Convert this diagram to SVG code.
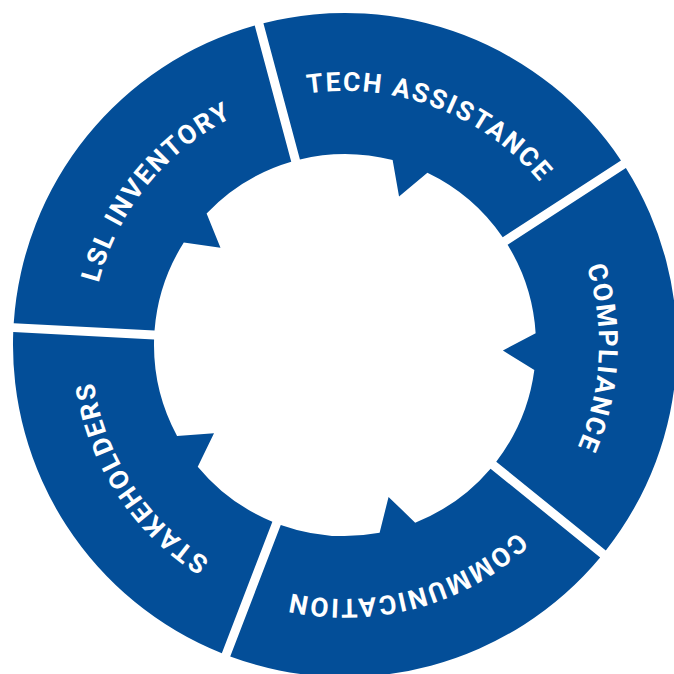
<svg xmlns="http://www.w3.org/2000/svg" xmlns:xlink="http://www.w3.org/1999/xlink" width="674" height="674" viewBox="0 0 674 674">
<style>
.seg{fill:#034e98}
.lbl{fill:#ffffff;font-family:Roboto,"Liberation Sans",sans-serif;font-weight:700;font-size:26.5px;letter-spacing:1.9px}
</style>
<defs>
<path id="segshape" d="M271.22,-191.49 A332,332 0 0 1 271.22,191.49 L157.13,108.60 A191,191 0 0 0 190.39,15.18 L157.98,-2.76 L189.75,-21.82 A191,191 0 0 0 157.13,-108.60 Z"/>
<path id="tp" d="M127,-219.97 A254,254 0 0 1 127,219.97" fill="none"/>
</defs>
<rect width="674" height="674" fill="#ffffff"/>
<g id="tech-assistance" transform="translate(345,345) rotate(-69)">
<use href="#segshape" class="seg"/>
<text class="lbl" text-anchor="middle"><textPath href="#tp" startOffset="50%">TECH ASSISTANCE</textPath></text>
</g>
<g id="compliance" transform="translate(345,345) rotate(3)">
<use href="#segshape" class="seg"/>
<text class="lbl" text-anchor="middle"><textPath href="#tp" startOffset="50%">COMPLIANCE</textPath></text>
</g>
<g id="communication" transform="translate(345,345) rotate(75)">
<use href="#segshape" class="seg"/>
<text class="lbl" text-anchor="middle"><textPath href="#tp" startOffset="50%">COMMUNICATION</textPath></text>
</g>
<g id="stakeholders" transform="translate(345,345) rotate(147)">
<use href="#segshape" class="seg"/>
<text class="lbl" text-anchor="middle"><textPath href="#tp" startOffset="50%">STAKEHOLDERS</textPath></text>
</g>
<g id="lsl-inventory" transform="translate(345,345) rotate(219)">
<use href="#segshape" class="seg"/>
<text class="lbl" text-anchor="middle"><textPath href="#tp" startOffset="50%">LSL INVENTORY</textPath></text>
</g>
<g id="connectors"></g>
</svg>
